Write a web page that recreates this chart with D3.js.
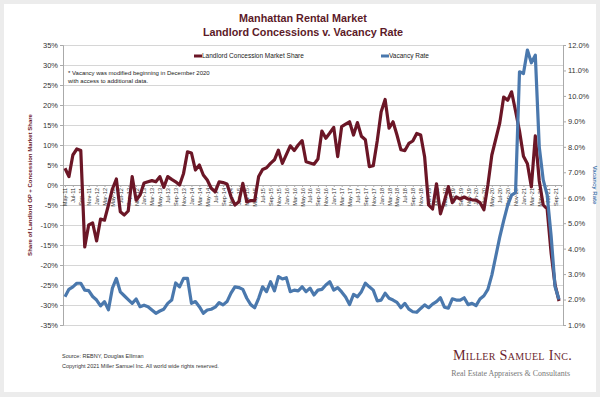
<!DOCTYPE html>
<html>
<head>
<meta charset="utf-8">
<script src="https://cdn.jsdelivr.net/npm/d3@7"></script>
<style>
  html, body { margin: 0; padding: 0; background: #ececec; }
  svg { display: block; font-family: "Liberation Sans", Arial, sans-serif; }
</style>
</head>
<body>
<script>
let width = 600
let height = 397

// monthly categories, May-11 .. Oct-21
let months = d3.timeMonth.range(new Date(2011, 4, 1), new Date(2021, 10, 1))

// landlord concession market share (%), left axis
let concessions = [
  4.2, 2.1, 7.5, 9.0, 8.6, -15.5, -10, -9.5, -14, -8.5,
  -8.8, -5, -1, 1.5, -6.7, -7.5, -6.5, 2.1, -3.8, -2.5,
  0.5, 0.8, 1.1, 0.8, 2.1, -0.6, 2.1, 1.4, 0.8, 0,
  2.9, 8.3, 8.0, 3.75, 5.0, 2.5, 1.25, -0.8, -1.7, 0.8,
  0.6, 0.25, -2.9, -5, -4.2, 0.4, -4.2, -3.9, -3.9, 2.1,
  3.9, 4.3, 5.4, 6.3, 8.7, 5.4, 7.6, 9.8, 8.6, 10,
  11.1, 5.8, 5.5, 5.2, 6.5, 13.5, 11.7, 13, 14.4, 7.1,
  14.6, 15.2, 15.8, 12.5, 15.6, 12.2, 11.3, 4.6, 4.8, 11,
  18.3, 21.4, 14.2, 15.8, 12.5, 8.8, 8.6, 10.4, 11, 12.9,
  12.5, 7, -5, -6, 0.3, -7.2, -4, -0.4, -4.4, -3,
  -3.5, -3, -3.5, -3.7, -3.8, -4.4, -6.2, 0, 7.5, 11.5,
  15.5, 22, 21.2, 23.3, 18.5, 13.5, 7.2, 5.3, -0.5, 12.3,
  1, -5, -6, -17, -25, -29
]

// vacancy rate (%), right axis
let vacancy = [
  2.11, 2.4, 2.5, 2.64, 2.64, 2.37, 2.35, 2.12, 1.98, 1.75,
  1.92, 1.6, 2.45, 2.83, 2.3, 2.15, 2.0, 1.85, 2.02, 1.72,
  1.78, 1.72, 1.59, 1.46, 1.55, 1.62, 1.85, 1.98, 2.65, 2.5,
  2.83, 2.83, 1.85, 1.92, 1.72, 1.46, 1.59, 1.62, 1.7, 1.88,
  1.79, 1.92, 2.25, 2.5, 2.47, 2.4, 2.05, 1.8, 1.68, 2.05,
  2.5, 2.31, 2.7, 2.34, 2.9, 2.81, 2.86, 2.31, 2.37, 2.34,
  2.5, 2.31, 2.45, 2.18, 2.37, 2.4, 2.57, 2.7, 2.37, 2.47,
  2.3, 2.1, 1.8, 2.2, 2.11, 2.31, 2.64, 2.5, 2.37, 1.95,
  1.98, 2.25, 2.05, 1.98, 1.89, 1.68, 1.85, 1.62, 1.52, 1.5,
  1.65, 1.79, 1.68, 1.82, 1.92, 2.07, 1.7, 1.66, 2.03, 1.98,
  1.98, 2.07, 1.8, 1.85, 1.76, 2.02, 2.15, 2.4, 2.96, 3.7,
  4.45, 5.1, 5.7, 6.1, 6.2, 10.95, 10.88, 11.8, 11.3, 11.6,
  8.0, 6.7, 6.1, 4.5, 2.5, 2.0
]

let leftTicks = [35, 30, 25, 20, 15, 10, 5, 0, -5, -10, -15, -20, -25, -30, -35]
let rightTicks = [1, 2, 3, 4, 5, 6, 7, 8, 9, 10, 11, 12]
// every second month gets a label
let xTickMonths = months.filter((d, i) => i % 2 === 0)

let maroon = '#6b1626'
let blue = '#4a78ad'

let plotLeft = 63
let plotRight = 563
let plotTop = 45
let plotBottom = 325

let svg = d3.select('body')
            .append('svg')
            .attr('width', width)
            .attr('height', height)

svg.append('rect').attr('width', width).attr('height', height).attr('fill', '#ececec')
svg.append('rect').attr('x', 4).attr('y', 4).attr('width', 592).attr('height', 388).attr('fill', '#fff')

let xScale = d3.scalePoint()
               .domain(months)
               .range([plotLeft, plotRight - 2])
               .padding(0.5)

let leftScale = d3.scaleLinear().domain([-35, 35]).range([plotBottom, plotTop])
let rightScale = d3.scaleLinear().domain([1, 12]).range([plotBottom, plotTop])

// grid lines
svg.append('g')
   .attr('transform', 'translate(' + plotLeft + ',0)')
   .call(d3.axisLeft(leftScale).tickValues(leftTicks).tickSize(-(plotRight - plotLeft)).tickFormat(''))
   .call(g => g.select('.domain').remove())
   .selectAll('line').attr('stroke', '#d6d6d6')

// left axis
let gl = svg.append('g')
            .attr('transform', 'translate(' + plotLeft + ',0)')
            .call(d3.axisLeft(leftScale).tickValues(leftTicks).tickFormat(d => d + '%').tickSize(3).tickPadding(2))
gl.select('.domain').attr('stroke', '#aaa')
gl.selectAll('.tick line').attr('stroke', '#aaa')
gl.selectAll('text').attr('font-size', 7.5).attr('fill', '#333').attr('font-family', 'Liberation Sans, Arial')

// right axis
let gr = svg.append('g')
            .attr('transform', 'translate(' + plotRight + ',0)')
            .call(d3.axisRight(rightScale).tickValues(rightTicks).tickFormat(d => d.toFixed(1) + '%').tickSize(3).tickPadding(2))
gr.select('.domain').attr('stroke', '#aaa')
gr.selectAll('.tick line').attr('stroke', '#aaa')
gr.selectAll('text').attr('font-size', 7.5).attr('fill', '#333').attr('font-family', 'Liberation Sans, Arial')

// category axis at 0%
let gx = svg.append('g')
            .attr('transform', 'translate(0,' + leftScale(0) + ')')
            .call(d3.axisBottom(xScale).tickValues(xTickMonths).tickFormat(d3.timeFormat('%b-%y')).tickSize(2))
gx.select('.domain').attr('stroke', '#aaa')
gx.selectAll('.tick line').attr('stroke', '#aaa')
gx.selectAll('text')
  .attr('font-size', 5.6)
  .attr('fill', '#333')
  .attr('font-family', 'Liberation Sans, Arial')
  .attr('transform', 'rotate(-90)')
  .attr('text-anchor', 'end')
  .attr('x', -3)
  .attr('y', 0)
  .attr('dy', '0.35em')

// lines
let concessionLine = d3.line()
                       .x((d, i) => xScale(months[i]))
                       .y(d => leftScale(d))
let vacancyLine = d3.line()
                    .x((d, i) => xScale(months[i]))
                    .y(d => rightScale(d))

svg.append('path')
   .datum(concessions)
   .attr('d', concessionLine)
   .attr('fill', 'none')
   .attr('stroke', maroon)
   .attr('stroke-width', 3.2)
   .attr('stroke-linejoin', 'round')

svg.append('path')
   .datum(vacancy)
   .attr('d', vacancyLine)
   .attr('fill', 'none')
   .attr('stroke', blue)
   .attr('stroke-width', 3.2)
   .attr('stroke-linejoin', 'round')

// titles
svg.append('text').attr('x', 303).attr('y', 22).attr('text-anchor', 'middle')
   .attr('font-size', 10.8).attr('font-weight', 'bold').attr('fill', '#5c1a28')
   .text('Manhattan Rental Market')
svg.append('text').attr('x', 303).attr('y', 36).attr('text-anchor', 'middle')
   .attr('font-size', 10.8).attr('font-weight', 'bold').attr('fill', '#5c1a28')
   .text('Landlord Concessions v. Vacancy Rate')

// legend
let legend = [
  {label: 'Landlord Concession Market Share', color: maroon, x: 194},
  {label: 'Vacancy Rate', color: blue, x: 381}
]
legend.forEach(item => {
  svg.append('line').attr('x1', item.x).attr('x2', item.x + 8).attr('y1', 56).attr('y2', 56)
     .attr('stroke', item.color).attr('stroke-width', 3)
  svg.append('text').attr('x', item.x + 8).attr('y', 58.3)
     .attr('font-size', 6.5).attr('fill', '#222').text(item.label)
})

// note
svg.append('text').attr('x', 68).attr('y', 75).attr('font-size', 6).attr('fill', '#222')
   .text('* Vacancy was modified beginning in December 2020')
svg.append('text').attr('x', 68).attr('y', 82.5).attr('font-size', 6).attr('fill', '#222')
   .text('with access to additional data.')

// axis titles
svg.append('text')
   .attr('transform', 'translate(31.5,' + leftScale(0) + ') rotate(-90)')
   .attr('text-anchor', 'middle')
   .attr('font-size', 6).attr('font-weight', 'bold').attr('fill', maroon)
   .text('Share of Landlord OP + Concession Market Share')
svg.append('text')
   .attr('transform', 'translate(592.5,' + leftScale(0) + ') rotate(90)')
   .attr('text-anchor', 'middle')
   .attr('font-size', 6).attr('font-weight', 'bold').attr('fill', blue)
   .text('Vacancy Rate')

// footer
svg.append('text').attr('x', 62).attr('y', 358).attr('font-size', 5.5).attr('fill', '#333')
   .text('Source: REBNY, Douglas Elliman')
svg.append('text').attr('x', 62).attr('y', 368).attr('font-size', 5.5).attr('fill', '#333')
   .text('Copyright 2021 Miller Samuel Inc.  All world wide rights reserved.')

svg.append('text').attr('x', 572).attr('y', 360).attr('text-anchor', 'end')
   .attr('font-family', 'Liberation Serif, serif').attr('font-size', 14.2).attr('fill', '#6b1f2e')
   .attr('font-variant', 'small-caps').attr('letter-spacing', 0.3)
   .text('Miller Samuel Inc.')
svg.append('text').attr('x', 570).attr('y', 376).attr('text-anchor', 'end')
   .attr('font-family', 'Liberation Serif, serif').attr('font-size', 7.9).attr('fill', '#777')
   .text('Real Estate Appraisers & Consultants')
</script>
</body>
</html>
